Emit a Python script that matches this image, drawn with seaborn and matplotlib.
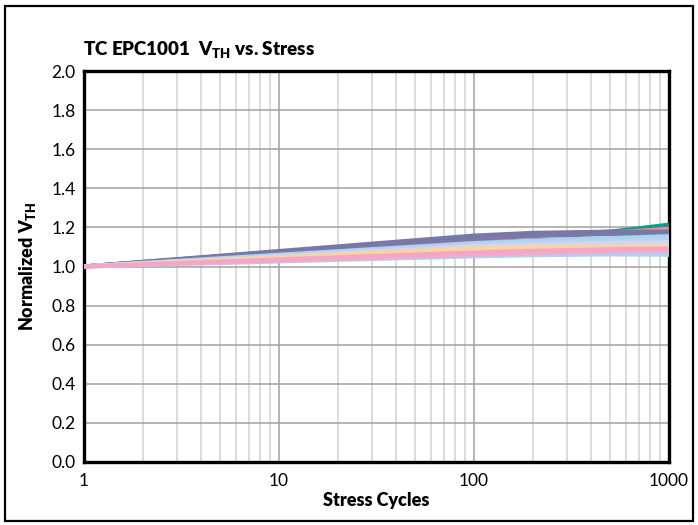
import matplotlib
matplotlib.use("Agg")
import matplotlib.pyplot as plt
import matplotlib.ticker as mticker
from matplotlib.patches import Rectangle
import numpy as np
import pandas as pd
import seaborn as sns

# Stress cycle checkpoints and normalized threshold voltage for each device
cycles = [1, 100, 200, 500, 1000]

dev_teal = [1.0, 1.150, 1.165, 1.178, 1.214]
dev_salmon = [1.0, 1.145, 1.160, 1.174, 1.192]
dev_pur2 = [1.0, 1.142, 1.156, 1.166, 1.168]
dev_pur1 = [1.0, 1.158, 1.172, 1.178, 1.178]
dev_mag = [1.0, 1.130, 1.140, 1.148, 1.150]
dev_lb1 = [1.0, 1.120, 1.132, 1.145, 1.155]
dev_lb2 = [1.0, 1.110, 1.122, 1.132, 1.138]
dev_lav1 = [1.0, 1.103, 1.112, 1.120, 1.124]
dev_lav2 = [1.0, 1.094, 1.103, 1.110, 1.112]
dev_orange = [1.0, 1.092, 1.097, 1.100, 1.101]
dev_lb3 = [1.0, 1.052, 1.058, 1.062, 1.060]
dev_pink2 = [1.0, 1.060, 1.068, 1.076, 1.080]
dev_pink1 = [1.0, 1.072, 1.080, 1.088, 1.092]

series = {
    "D1": dev_teal, "D2": dev_salmon, "D3": dev_pur2, "D4": dev_pur1,
    "D5": dev_mag, "D6": dev_lb1, "D7": dev_lb2, "D8": dev_lav1,
    "D9": dev_lav2, "D10": dev_orange, "D11": dev_lb3, "D12": dev_pink2,
    "D13": dev_pink1,
}
palette = {
    "D1": "#13998d", "D2": "#f08c8c", "D3": "#7a7aaa", "D4": "#7878a8",
    "D5": "#b0568a", "D6": "#a9d3ef", "D7": "#b3d6ee", "D8": "#d4d4ec",
    "D9": "#d8d6ec", "D10": "#fcd39a", "D11": "#a9d3ef", "D12": "#f5aacb",
    "D13": "#f4a6c8",
}

df = pd.DataFrame(
    [(name, c, v) for name, vals in series.items() for c, v in zip(cycles, vals)],
    columns=["device", "cycles", "vth"],
)

sns.set_theme(style="white")
plt.rcParams["font.family"] = ["Liberation Sans Narrow", "Lato", "DejaVu Sans"]
plt.rcParams["text.color"] = "black"
plt.rcParams["axes.labelcolor"] = "black"
plt.rcParams["mathtext.fontset"] = "custom"
plt.rcParams["mathtext.rm"] = "Lato"
plt.rcParams["mathtext.bf"] = "Lato:heavy"

fig = plt.figure(figsize=(6.98, 5.25), dpi=100)
ax = fig.add_axes([84 / 698, 1 - 462 / 525, (669 - 84) / 698, (462 - 71) / 525])

ax.set_xscale("log")
ax.set_xlim(1, 1000)
ax.set_ylim(0, 2.0)

# grid: medium gray majors, light gray minors
ax.xaxis.set_minor_locator(mticker.LogLocator(base=10, subs=np.arange(2, 10)))
ax.grid(which="major", axis="both", color="#a0a0a0", linewidth=1.1, zorder=0)
ax.grid(which="minor", axis="x", color="#d6d6d6", linewidth=1.2, zorder=0)
ax.set_axisbelow(True)

sns.lineplot(
    data=df, x="cycles", y="vth", hue="device", hue_order=list(series.keys()),
    palette=palette, linewidth=3.0, legend=False, ax=ax, zorder=3,
)
for ln in ax.get_lines():
    ln.set_solid_capstyle("butt")
    ln.set_solid_joinstyle("round")
    if ln.get_color() == "#b0568a":
        ln.set_linewidth(1.2)

ax.set_xticks([1, 10, 100, 1000])
ax.set_xticklabels(["1", "10", "100", "1000"])
ax.set_yticks(np.round(np.arange(0, 2.01, 0.2), 1))
ax.set_yticklabels([f"{v:.1f}" for v in np.arange(0, 2.01, 0.2)])
ax.tick_params(axis="both", which="both", length=0, labelsize=12.5, colors="black")
ax.tick_params(axis="y", pad=6)
ax.tick_params(axis="x", pad=8)

for sp in ax.spines.values():
    sp.set_visible(True)
    sp.set_color("black")
    sp.set_linewidth(2.4)

ax.set_xlabel("Stress Cycles", fontsize=13, fontweight="heavy", labelpad=2)
ax.set_ylabel(r"Normalized $\mathbf{V_{TH}}$", fontsize=13, fontweight="heavy", labelpad=10)

fig.text(83 / 698, 1 - 49 / 525, r"TC EPC1001  $\mathbf{V_{TH}}$ vs. Stress",
         fontsize=13.5, fontweight="heavy", ha="left", va="center")

# outer frame around the whole figure
fig.patches.append(Rectangle((5 / 698, 4 / 525), 688 / 698, 515 / 525,
                             transform=fig.transFigure, fill=False,
                             edgecolor="black", linewidth=1.6))

fig.savefig("out.png", dpi=100)
